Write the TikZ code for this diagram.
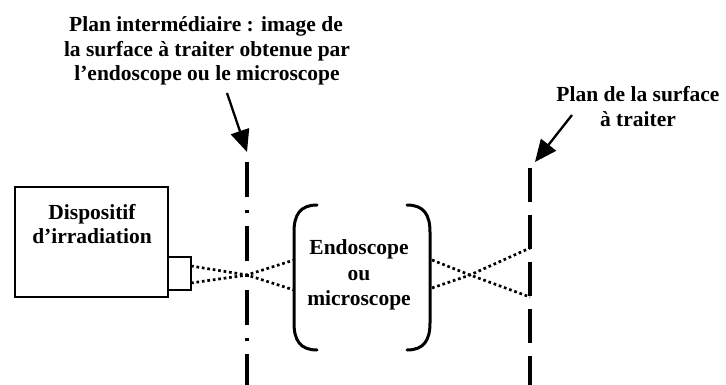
\documentclass[tikz,border=0pt]{standalone}
\usepackage{fontspec}
\setmainfont{Liberation Serif}
\usetikzlibrary{arrows.meta}
\begin{document}
\begin{tikzpicture}[x=1pt,y=-1pt,
  lbl/.style={font=\fontsize{21.5}{25}\selectfont\bfseries, anchor=base, inner sep=0pt},
  frame/.style={draw, line width=2.3pt, inner sep=0pt},
  ray/.style={line width=2.7pt, dash pattern=on 2.7pt off 2.8pt},
  pointer/.style={line width=2.3pt, -{Triangle[length=22pt,width=19pt]}},
  plane/.style={line width=4.5pt},
  bracket/.style={line width=3pt, line cap=round}]
\useasboundingbox (0,0) rectangle (726,385);

% irradiation device and its output lens
\node[frame, minimum width=153pt, minimum height=110pt] (dev) at (91.5,242) {};
\node[frame, minimum width=23pt, minimum height=33pt] (lens) at (179.5,273.5) {};
\node[lbl] (dev1) at (92,219) {Dispositif};
\node[lbl] (dev2) at (92,243) {d’irradiation};

% intermediate image plane (dash-dot)
\coordinate (pi-top) at (247,162);
\coordinate (pi-bot) at (247,385);
\draw[plane, dash pattern=on 35pt off 13pt on 3pt off 13pt] (pi-top) -- (pi-bot);

% surface plane (dashed)
\coordinate (ps-top) at (530,168);
\coordinate (ps-bot) at (530,385);
\draw[plane, dash pattern=on 34pt off 13pt] (ps-top) -- (ps-bot);

% endoscope / microscope between brackets
\draw[bracket] (317,205) .. controls (300,205) and (294,215) .. (294,232)
  -- (294,323) .. controls (294,340) and (300,350) .. (317,350);
\draw[bracket] (407,205) .. controls (424,205) and (430,215) .. (430,232)
  -- (430,323) .. controls (430,340) and (424,350) .. (407,350);
\node[lbl] (endo1) at (359,254) {Endoscope};
\node[lbl] (endo2) at (359,280) {ou};
\node[lbl] (endo3) at (359,305) {microscope};

% beam rays
\coordinate (l-up) at (191,266);
\coordinate (l-dn) at (191,283);
\coordinate (f1) at (247,275);
\coordinate (bl-up) at (294,260);
\coordinate (bl-dn) at (294,290);
\coordinate (br-up) at (432,260);
\coordinate (br-dn) at (432,288);
\coordinate (f2) at (470,275);
\coordinate (s-up) at (530,248);
\coordinate (s-dn) at (530,297);
\draw[ray] (l-up) -- (f1) -- (bl-dn);
\draw[ray] (l-dn) -- (f1) -- (bl-up);
\draw[ray] (br-up) -- (f2) -- (s-dn);
\draw[ray] (br-dn) -- (f2) -- (s-up);

% captions
\node[lbl] (t1) at (206,32) {Plan intermédiaire : image de};
\node[lbl] (t2) at (207,56.5) {la surface à traiter obtenue par};
\node[lbl] (t3) at (207,81) {l’endoscope ou le microscope};
\node[lbl] (s1) at (638,102) {Plan de la surface};
\node[lbl] (s2) at (638,127) {à traiter};

% pointers
\coordinate (a1) at (227,93);
\coordinate (a1tip) at (247,152);
\coordinate (a2) at (572,115);
\coordinate (a2tip) at (535,162);
\draw[pointer] (a1) -- (a1tip);
\draw[pointer] (a2) -- (a2tip);
\end{tikzpicture}
\end{document}
